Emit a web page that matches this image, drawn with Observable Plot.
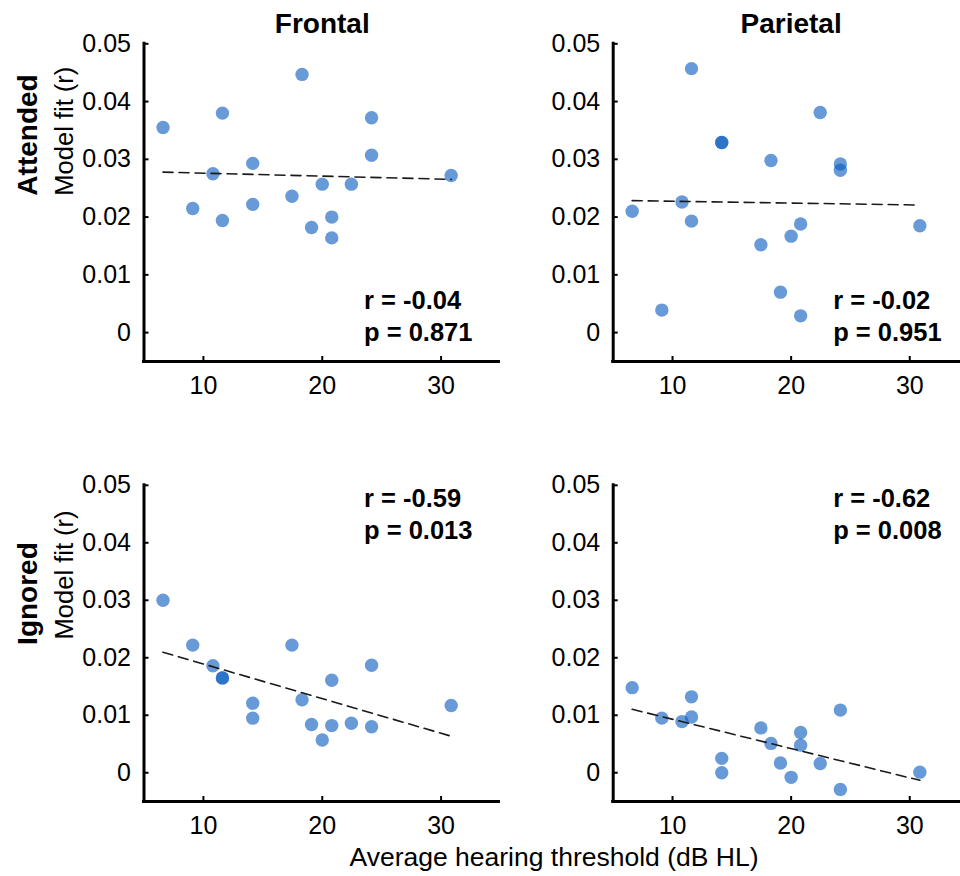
<!DOCTYPE html>
<html>
<head>
<meta charset="utf-8">
<script src="https://cdn.jsdelivr.net/npm/d3@7"></script>
<script src="https://cdn.jsdelivr.net/npm/@observablehq/plot@0.6"></script>
<style>
html, body { margin: 0; padding: 0; background: #fff; overflow: hidden; }
#chart { position: relative; width: 960px; height: 876px; overflow: hidden; font-family: "Liberation Sans", Arial, Helvetica, sans-serif; color: #000; }
.panel { position: absolute; }
.panel svg { background: transparent !important; max-width: none !important; overflow: hidden; }
#xlabel { position: absolute; white-space: nowrap; font-size: 26.5px; line-height: 26.5px; transform: translateX(-50%); }
</style>
</head>
<body>
<div id="chart"></div>
<script>
// ---- data ----
const regions = ["Frontal", "Parietal"];
const conditions = ["Attended", "Ignored"];
const hearingThreshold = [6.6, 9.1, 10.8, 11.6, 11.6, 14.15, 14.15, 17.45, 18.3, 19.1, 20.0, 20.8, 20.8, 22.45, 24.15, 24.15, 30.85];
const frontalAttended  = [0.0355, 0.0215, 0.0275, 0.0380, 0.0194, 0.0293, 0.0222, 0.0236, 0.0447, 0.0182, 0.0257, 0.0200, 0.0164, 0.0257, 0.0372, 0.0307, 0.0272];
const parietalAttended = [0.0210, 0.0039, 0.0226, 0.0457, 0.0193, 0.0329, 0.0329, 0.0152, 0.0298, 0.0070, 0.0167, 0.0188, 0.0029, 0.0381, 0.0292, 0.0281, 0.0185];
const frontalIgnored   = [0.0300, 0.0222, 0.0186, 0.0165, 0.0165, 0.0121, 0.0095, 0.0222, 0.0127, 0.0084, 0.0057, 0.0161, 0.0082, 0.0086, 0.0187, 0.0080, 0.0117];
const parietalIgnored  = [0.0148, 0.0095, 0.0089, 0.0132, 0.0097, 0.0025, 0.0000, 0.0078, 0.0051, 0.0017, -0.0008, 0.0070, 0.0048, 0.0016, 0.0109, -0.0029, 0.0001];
const statR = ["-0.04", "-0.02", "-0.59", "-0.62"];      // Frontal/Parietal x Attended/Ignored
const statP = ["0.871", "0.951", "0.013", "0.008"];
const xTicks = [10, 20, 30];
const yTicks = [0, 0.01, 0.02, 0.03, 0.04, 0.05];
const xDomain = [5, 35];
const yDomain = [-0.005, 0.05];
const xLabel = "Average hearing threshold (dB HL)";
const yLabel = "Model fit (r)";

const FONT = '"Liberation Sans", Arial, Helvetica, sans-serif';
const chart = document.getElementById("chart");

function panel(cfg) {
  const {values, r, p, title, rowLabel, left, top, width, height, mL, mT, mB, statsTop} = cfg;
  const data = hearingThreshold.map((x, i) => ({x, y: values[i]}));
  const frameW = width - mL;
  const frameH = height - mT - mB;
  const marks = [
    Plot.ruleX([xDomain[0]], {y1: yDomain[0], y2: yDomain[1], stroke: "#000", strokeWidth: 3, strokeLinecap: "square"}),
    Plot.ruleY([yDomain[0]], {x1: xDomain[0], x2: xDomain[1], stroke: "#000", strokeWidth: 3, strokeLinecap: "square"}),
    Plot.tickY(yTicks, {y: d => d, insetRight: frameW - 5, stroke: "#000", strokeWidth: 2}),
    Plot.tickX(xTicks, {x: d => d, insetTop: frameH - 5, stroke: "#000", strokeWidth: 2}),
    Plot.axisY(yTicks, {anchor: "left", tickSize: 0, tickPadding: 13, fontSize: 25, label: null,
      tickFormat: d => d === 0 ? "0" : d.toFixed(2)}),
    Plot.axisX(xTicks, {anchor: "bottom", tickSize: 0, tickPadding: 15, fontSize: 25, label: null,
      tickFormat: d => String(d)}),
    Plot.dot(data, {x: "x", y: "y", r: 6.7, fill: "#0a5cbf", fillOpacity: 0.62, stroke: "none"}),
    Plot.linearRegressionY(data, {x: "x", y: "y", ci: 0, stroke: "#1a1a1a", strokeWidth: 1.6, strokeDasharray: "10,6"}),
    Plot.text([`r = ${r}\np = ${p}`], {
      frameAnchor: statsTop ? "top-left" : "bottom-left", lineAnchor: "bottom", textAnchor: "start",
      dx: 220, dy: statsTop ? 54 : -20.5, fontSize: 25.5, fontWeight: "bold", lineHeight: 1.27, fill: "#000"
    })
  ];
  if (title) {
    marks.push(Plot.text([title], {frameAnchor: "top", lineAnchor: "bottom", dy: -10.5, fontSize: 28, fontWeight: "bold", fill: "#000"}));
  }
  if (rowLabel) {
    marks.push(Plot.text([rowLabel.text], {frameAnchor: "left", lineAnchor: "bottom", rotate: -90, dx: -107, dy: rowLabel.dy, fontSize: 28, fontWeight: "bold", fill: "#000"}));
    marks.push(Plot.text([yLabel], {frameAnchor: "left", lineAnchor: "bottom", rotate: -90, dx: -71.5, dy: rowLabel.dy2, fontSize: 25.5, fill: "#000"}));
  }
  const svg = Plot.plot({
    width, height,
    marginLeft: mL, marginRight: 0, marginTop: mT, marginBottom: mB,
    style: {fontFamily: FONT, background: "transparent", color: "#000", overflow: "hidden"},
    x: {domain: xDomain, label: null},
    y: {domain: yDomain, label: null},
    marks
  });
  const div = document.createElement("div");
  div.className = "panel";
  div.style.left = left + "px";
  div.style.top = top + "px";
  div.style.width = width + "px";
  div.style.height = height + "px";
  div.appendChild(svg);
  chart.appendChild(div);
}

// Top row (Attended)
panel({values: frontalAttended, r: statR[0], p: statP[0], title: regions[0],
  rowLabel: {text: conditions[0], dy: -7, dy2: -7},
  left: 0, top: 0, width: 500, height: 400, mL: 143.5, mT: 43.3, mB: 39, statsTop: false});
panel({values: parietalAttended, r: statR[1], p: statP[1], title: regions[1],
  left: 500, top: 0, width: 468.6, height: 400, mL: 112.7, mT: 43.3, mB: 39, statsTop: false});
// Bottom row (Ignored)
panel({values: frontalIgnored, r: statR[2], p: statP[2],
  rowLabel: {text: conditions[1], dy: 1.5, dy2: -4},
  left: 0, top: 440, width: 500, height: 436, mL: 143.5, mT: 44.8, mB: 75, statsTop: true});
panel({values: parietalIgnored, r: statR[3], p: statP[3],
  left: 500, top: 440, width: 468.6, height: 436, mL: 112.7, mT: 44.8, mB: 75, statsTop: true});

const xl = document.createElement("div");
xl.id = "xlabel";
xl.textContent = xLabel;
xl.style.left = "554px";
xl.style.top = "844px";
chart.appendChild(xl);
</script>
</body>
</html>
